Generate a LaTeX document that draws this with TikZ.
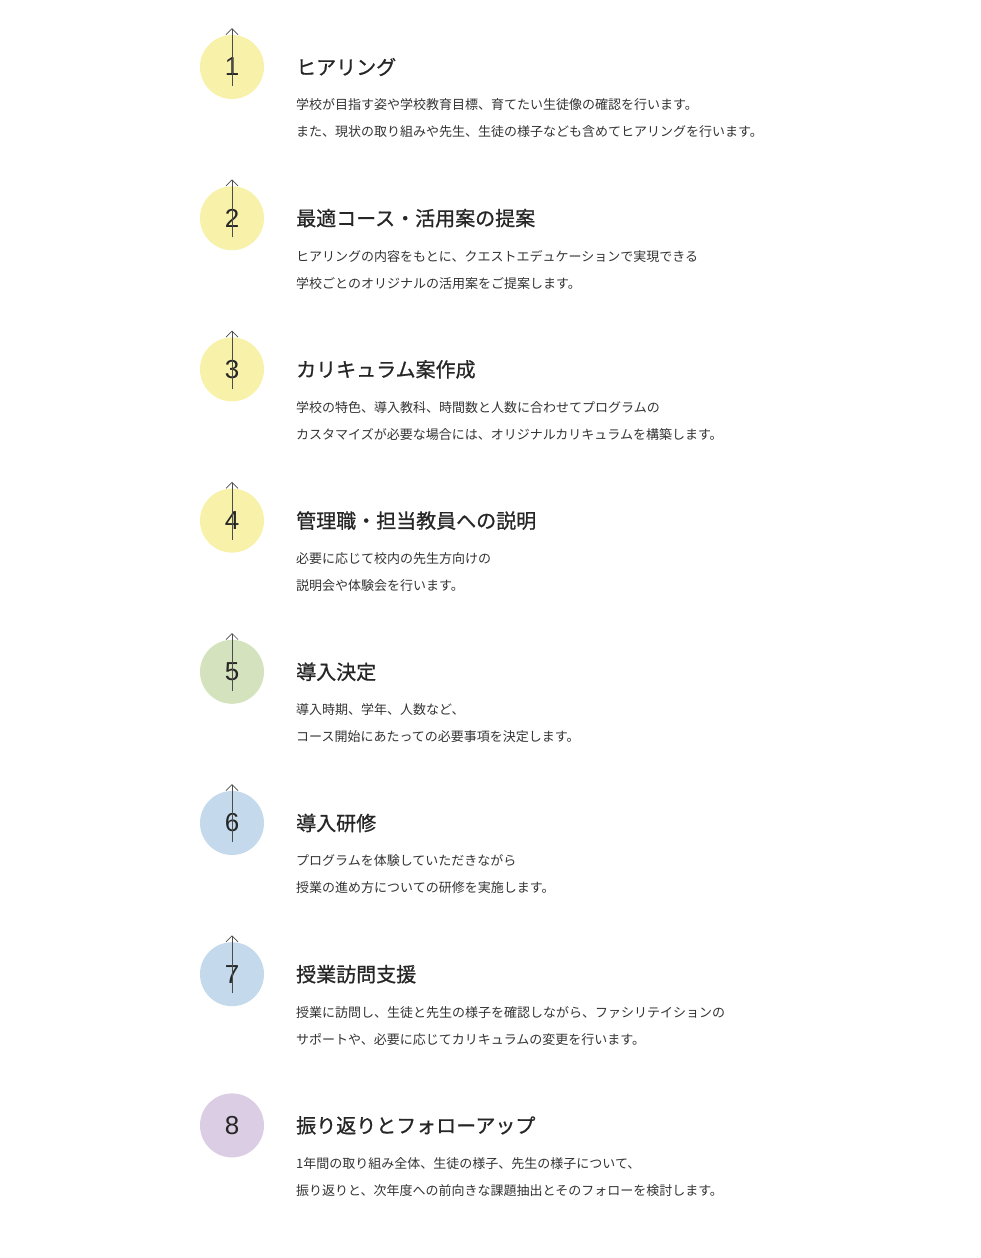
\documentclass[tikz,border=0pt]{standalone}
\usepackage{fontspec}
\newfontfamily\cjk{Noto Sans CJK JP}
\newfontfamily\cjkb{Noto Sans CJK JP}[BoldFont=*, FakeBold=1.2]
\newfontfamily\numf{Liberation Sans}
\usetikzlibrary{arrows.meta}
\definecolor{cy}{HTML}{F7F1AA}
\definecolor{cg}{HTML}{D4E3BD}
\definecolor{cb}{HTML}{C4DAEC}
\definecolor{cp}{HTML}{DACDE4}
\tikzset{
 numc/.style={circle,minimum size=64pt,inner sep=0pt,font=\numf\fontsize{26}{26}\selectfont,text=black!85},
 ttl/.style={anchor=west,inner sep=0pt,font=\cjk\fontsize{20}{20}\selectfont\addfontfeature{FakeBold=0.8},text=black!85},
 bod/.style={anchor=west,inner sep=0pt,font=\cjk\fontsize{13}{13}\selectfont,text=black!80},
 arr/.style={draw=black!70,line width=0.7pt,-{Straight Barb[length=6pt,width=12pt]}}
}
\begin{document}
\begin{tikzpicture}[x=1pt,y=-1pt]
\useasboundingbox (0,0) rectangle (980,1258);
\foreach \n/\c/\t/\a/\b [count=\i from 0] in {
1/cy/ヒアリング/学校が目指す姿や学校教育目標、育てたい生徒像の確認を行います。/また、現状の取り組みや先生、生徒の様子なども含めてヒアリングを行います。,
2/cy/最適コース・活用案の提案/ヒアリングの内容をもとに、クエストエデュケーションで実現できる/学校ごとのオリジナルの活用案をご提案します。,
3/cy/カリキュラム案作成/学校の特色、導入教科、時間数と人数に合わせてプログラムの/カスタマイズが必要な場合には、オリジナルカリキュラムを構築します。,
4/cy/管理職・担当教員への説明/必要に応じて校内の先生方向けの/説明会や体験会を行います。,
5/cg/導入決定/導入時期、学年、人数など、/コース開始にあたっての必要事項を決定します。,
6/cb/導入研修/プログラムを体験していただきながら/授業の進め方についての研修を実施します。,
7/cb/授業訪問支援/授業に訪問し、生徒と先生の様子を確認しながら、ファシリテイションの/サポートや、必要に応じてカリキュラムの変更を行います。,
8/cp/振り返りとフォローアップ/1年間の取り組み全体、生徒の様子、先生の様子について、/振り返りと、次年度への前向きな課題抽出とそのフォローを検討します。}{
 \pgfmathsetmacro\yy{67+151.2*\i}
 \node[numc,fill=\c] (c\n) at (232,\yy) {\n};
 \node[ttl] (t\n) at (296,\yy) {\t};
 \node[bod] (a\n) at (296,\yy+38) {\a};
 \node[bod] (b\n) at (296,\yy+65) {\b};
}
\foreach \i in {1,...,7}{
 \coordinate (s\i) at ([yshift=13pt]c\i.south);
 \coordinate (e\i) at ([yshift=71pt]c\i.south);
 \draw[arr] (s\i) -- (e\i);
}
\end{tikzpicture}
\end{document}
